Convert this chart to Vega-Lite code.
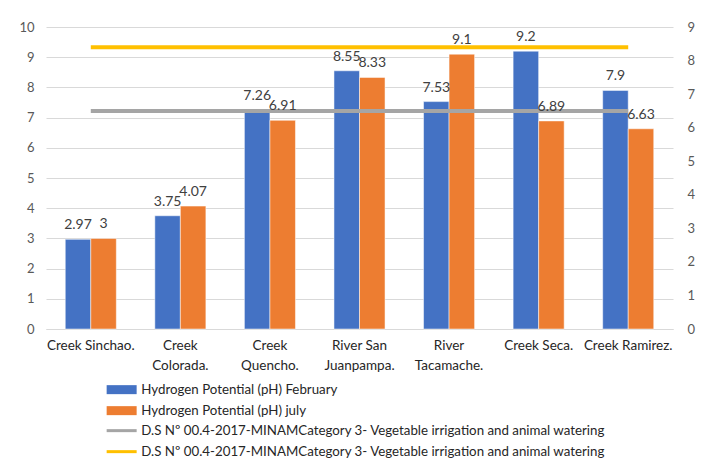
{
  "$schema": "https://vega.github.io/schema/vega-lite/v6.json",
  "width": 627,
  "height": 302,
  "autosize": {"type": "none"},
  "padding": {"left": 46, "top": 27, "right": 31, "bottom": 142},
  "background": "white",
  "config": {
    "font": "Lato",
    "view": {"stroke": null},
    "axis": {"labelFont": "Lato", "ticks": false}
  },
  "datasets": {
    "bars": [
      {"site": "Creek Sinchao.", "series": "Hydrogen Potential (pH) February", "pH": 2.97},
      {"site": "Creek Sinchao.", "series": "Hydrogen Potential (pH) july", "pH": 3},
      {"site": "Creek Colorada.", "series": "Hydrogen Potential (pH) February", "pH": 3.75},
      {"site": "Creek Colorada.", "series": "Hydrogen Potential (pH) july", "pH": 4.07},
      {"site": "Creek Quencho.", "series": "Hydrogen Potential (pH) February", "pH": 7.26},
      {"site": "Creek Quencho.", "series": "Hydrogen Potential (pH) july", "pH": 6.91},
      {"site": "River San Juanpampa.", "series": "Hydrogen Potential (pH) February", "pH": 8.55},
      {"site": "River San Juanpampa.", "series": "Hydrogen Potential (pH) july", "pH": 8.33},
      {"site": "River Tacamache.", "series": "Hydrogen Potential (pH) February", "pH": 7.53},
      {"site": "River Tacamache.", "series": "Hydrogen Potential (pH) july", "pH": 9.1},
      {"site": "Creek Seca.", "series": "Hydrogen Potential (pH) February", "pH": 9.2},
      {"site": "Creek Seca.", "series": "Hydrogen Potential (pH) july", "pH": 6.89},
      {"site": "Creek Ramirez.", "series": "Hydrogen Potential (pH) February", "pH": 7.9},
      {"site": "Creek Ramirez.", "series": "Hydrogen Potential (pH) july", "pH": 6.63}
    ],
    "limits": [
      {"site": "Creek Sinchao.", "series": "D.S Nº 00.4-2017-MINAMCategory 3- Vegetable irrigation and animal watering (min)", "limit": 6.5},
      {"site": "Creek Colorada.", "series": "D.S Nº 00.4-2017-MINAMCategory 3- Vegetable irrigation and animal watering (min)", "limit": 6.5},
      {"site": "Creek Quencho.", "series": "D.S Nº 00.4-2017-MINAMCategory 3- Vegetable irrigation and animal watering (min)", "limit": 6.5},
      {"site": "River San Juanpampa.", "series": "D.S Nº 00.4-2017-MINAMCategory 3- Vegetable irrigation and animal watering (min)", "limit": 6.5},
      {"site": "River Tacamache.", "series": "D.S Nº 00.4-2017-MINAMCategory 3- Vegetable irrigation and animal watering (min)", "limit": 6.5},
      {"site": "Creek Seca.", "series": "D.S Nº 00.4-2017-MINAMCategory 3- Vegetable irrigation and animal watering (min)", "limit": 6.5},
      {"site": "Creek Ramirez.", "series": "D.S Nº 00.4-2017-MINAMCategory 3- Vegetable irrigation and animal watering (min)", "limit": 6.5},
      {"site": "Creek Sinchao.", "series": "D.S Nº 00.4-2017-MINAMCategory 3- Vegetable irrigation and animal watering (max)", "limit": 8.4},
      {"site": "Creek Colorada.", "series": "D.S Nº 00.4-2017-MINAMCategory 3- Vegetable irrigation and animal watering (max)", "limit": 8.4},
      {"site": "Creek Quencho.", "series": "D.S Nº 00.4-2017-MINAMCategory 3- Vegetable irrigation and animal watering (max)", "limit": 8.4},
      {"site": "River San Juanpampa.", "series": "D.S Nº 00.4-2017-MINAMCategory 3- Vegetable irrigation and animal watering (max)", "limit": 8.4},
      {"site": "River Tacamache.", "series": "D.S Nº 00.4-2017-MINAMCategory 3- Vegetable irrigation and animal watering (max)", "limit": 8.4},
      {"site": "Creek Seca.", "series": "D.S Nº 00.4-2017-MINAMCategory 3- Vegetable irrigation and animal watering (max)", "limit": 8.4},
      {"site": "Creek Ramirez.", "series": "D.S Nº 00.4-2017-MINAMCategory 3- Vegetable irrigation and animal watering (max)", "limit": 8.4}
    ]
  },
  "encoding": {
    "x": {
      "field": "site",
      "type": "nominal",
      "sort": null,
      "scale": {"paddingInner": 0.43, "paddingOuter": 0.215},
      "axis": {
        "title": null,
        "labelAngle": 0,
        "labelFontSize": 13.5,
        "labelColor": "#262626",
        "labelPadding": 9,
        "labelLineHeight": 20,
        "labelLimit": 200,
        "domainColor": "#D9D9D9",
        "domainWidth": 1,
        "labelExpr": "datum.label == 'Creek Colorada.' ? ['Creek', 'Colorada.'] : datum.label == 'Creek Quencho.' ? ['Creek', 'Quencho.'] : datum.label == 'River San Juanpampa.' ? ['River San', 'Juanpampa.'] : datum.label == 'River Tacamache.' ? ['River', 'Tacamache.'] : datum.label"
      }
    }
  },
  "layer": [
    {
      "data": {"name": "bars"},
      "mark": {"type": "bar", "stroke": "white", "strokeWidth": 0.5},
      "encoding": {
        "xOffset": {"field": "series", "type": "nominal", "sort": null},
        "y": {
          "field": "pH",
          "type": "quantitative",
          "scale": {"domain": [0, 10]},
          "axis": {
            "title": null,
            "values": [0,1,2,3,4,5,6,7,8,9,10],
            "domain": false,
            "grid": true,
            "gridColor": "#D9D9D9",
            "gridWidth": 1,
            "labelFontSize": 13,
            "labelColor": "#595959",
            "labelPadding": 12
          }
        },
        "fill": {
          "field": "series",
          "type": "nominal",
          "scale": {
            "domain": ["Hydrogen Potential (pH) February", "Hydrogen Potential (pH) july"],
            "range": ["#4472C4", "#ED7D31"]
          },
          "legend": {
            "title": null,
            "orient": "none",
            "legendX": 69,
            "legendY": 356,
            "direction": "vertical",
            "labelFont": "Lato",
            "labelFontSize": 13.3,
            "labelColor": "#262626",
            "labelLimit": 600,
            "labelOffset": 13,
            "rowPadding": 7,
            "symbolSize": 100,
            "symbolType": "M-3,-0.9H3V0.9H-3Z",
            "symbolStrokeWidth": 0
          }
        }
      }
    },
    {
      "data": {"name": "limits"},
      "mark": {"type": "line", "strokeWidth": 4},
      "encoding": {
        "y": {
          "field": "limit",
          "type": "quantitative",
          "scale": {"domain": [0, 9]},
          "axis": {
            "orient": "right",
            "title": null,
            "values": [0,1,2,3,4,5,6,7,8,9],
            "domain": false,
            "grid": false,
            "labelFontSize": 13,
            "labelColor": "#595959",
            "labelPadding": 14
          }
        },
        "stroke": {
          "field": "series",
          "type": "nominal",
          "scale": {
            "domain": [
              "D.S Nº 00.4-2017-MINAMCategory 3- Vegetable irrigation and animal watering (min)",
              "D.S Nº 00.4-2017-MINAMCategory 3- Vegetable irrigation and animal watering (max)"
            ],
            "range": ["#A5A5A5", "#FFC000"]
          },
          "legend": {
            "title": null,
            "orient": "none",
            "legendX": 69,
            "legendY": 397,
            "direction": "vertical",
            "labelFont": "Lato",
            "labelFontSize": 13.3,
            "labelColor": "#262626",
            "labelLimit": 600,
            "labelOffset": 13,
            "rowPadding": 7,
            "symbolSize": 100,
            "symbolType": "M-3,0H3",
            "symbolStrokeWidth": 3,
            "labelExpr": "replace(replace(datum.label, ' (min)', ''), ' (max)', '')"
          }
        }
      }
    },
    {
      "data": {"name": "bars"},
      "mark": {"type": "text", "baseline": "bottom", "dy": -7, "fontSize": 14, "font": "Lato", "color": "#404040"},
      "encoding": {
        "xOffset": {"field": "series", "type": "nominal", "sort": null},
        "y": {"field": "pH", "type": "quantitative", "scale": {"domain": [0, 10]}, "axis": null},
        "text": {"field": "pH", "type": "quantitative"}
      }
    }
  ],
  "resolve": {"scale": {"y": "independent"}}
}
